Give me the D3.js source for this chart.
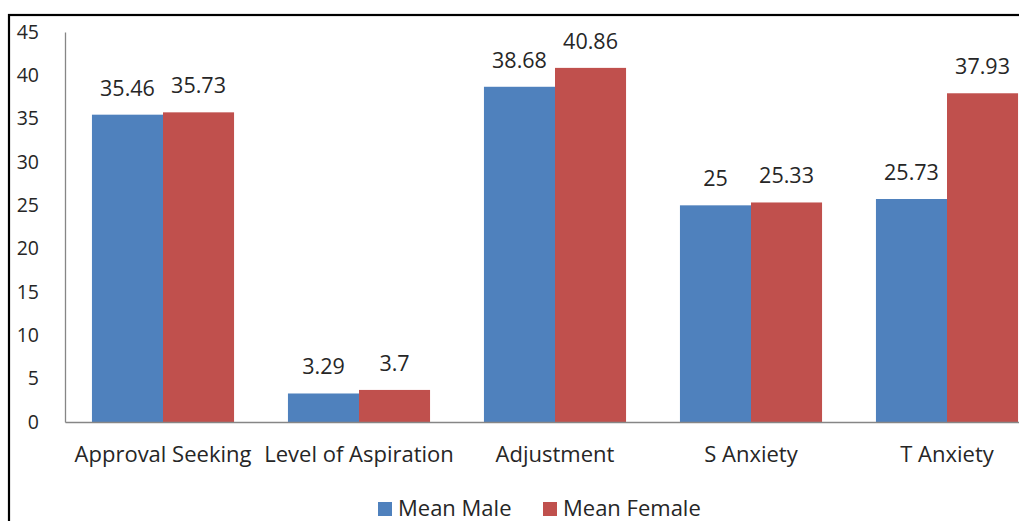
<!DOCTYPE html>
<html>
<head>
<meta charset="utf-8">
<script src="https://cdn.jsdelivr.net/npm/d3@7"></script>
<style>
  html, body { margin: 0; padding: 0; background: #fff; }
  svg { display: block; }
  text { font-family: "Open Sans", Lato, sans-serif; fill: #262626; }
</style>
</head>
<body>
<svg id="chart" width="1019" height="521"></svg>
<script>
// Scale scores by group
const categories = ["Approval Seeking", "Level of Aspiration", "Adjustment", "S Anxiety", "T Anxiety"];
const seriesNames = ["Mean Male", "Mean Female"];
const meanMale = [35.46, 3.29, 38.68, 25, 25.73];
const meanFemale = [35.73, 3.7, 40.86, 25.33, 37.93];
const yTicks = [0, 5, 10, 15, 20, 25, 30, 35, 40, 45];
const colors = ["#4F81BD", "#C0504D"];

const svg = d3.select("#chart");
const W = 1019, H = 521;

// outer chart frame
svg.append("rect")
  .attr("x", 9).attr("y", 15)
  .attr("width", W + 20).attr("height", H + 20)
  .attr("fill", "none").attr("stroke", "#000").attr("stroke-width", 2.2);

const plot = { left: 65, right: 1045, top: 32, bottom: 422 };

const x0 = d3.scaleBand().domain(categories).range([plot.left, plot.right]).paddingInner(0.275).paddingOuter(0.1375);
const x1 = d3.scaleBand().domain(seriesNames).range([0, x0.bandwidth()]);
const y = d3.scaleLinear().domain([0, 45]).range([plot.bottom, plot.top]);

const rows = categories.map((c, i) => ({ cat: c, vals: [meanMale[i], meanFemale[i]] }));

const groups = svg.append("g").selectAll("g").data(rows).join("g")
  .attr("transform", d => `translate(${x0(d.cat)},0)`);

groups.selectAll("rect").data(d => d.vals.map((v, j) => ({ v, s: seriesNames[j], j })))
  .join("rect")
  .attr("x", d => x1(d.s))
  .attr("y", d => y(d.v))
  .attr("width", x1.bandwidth())
  .attr("height", d => y(0) - y(d.v))
  .attr("fill", d => colors[d.j]);

groups.selectAll("text.val").data(d => d.vals.map((v, j) => ({ v, s: seriesNames[j] })))
  .join("text").attr("class", "val")
  .attr("x", d => x1(d.s) + x1.bandwidth() / 2)
  .attr("y", d => y(d.v) - 19)
  .attr("text-anchor", "middle")
  .attr("font-size", 21.5)
  .text(d => d.v);

// y axis
const yAxis = svg.append("g").attr("transform", `translate(${plot.left},0)`)
  .call(d3.axisLeft(y).tickValues(yTicks).tickSize(0).tickPadding(26));
yAxis.select(".domain").attr("stroke", "#868686").attr("stroke-width", 1.3);
yAxis.selectAll("text").attr("font-size", 19.5).attr("fill", "#262626")
  .style("font-family", "'Open Sans', sans-serif");

// x axis
const xAxis = svg.append("g").attr("transform", `translate(0,${plot.bottom})`)
  .call(d3.axisBottom(x0).tickSize(0).tickPadding(0));
xAxis.select(".domain").attr("stroke", "#868686").attr("stroke-width", 1.3);
xAxis.selectAll("text").attr("font-size", 22).attr("fill", "#262626")
  .style("font-family", "'Open Sans', sans-serif")
  .attr("dy", null).attr("y", 40);

// legend
const legend = svg.append("g");
const legendItems = [{ name: seriesNames[0], x: 378 }, { name: seriesNames[1], x: 543 }];
legendItems.forEach((it, i) => {
  legend.append("rect").attr("x", it.x).attr("y", 502).attr("width", 14).attr("height", 14).attr("fill", colors[i]);
  legend.append("text").attr("x", it.x + 20).attr("y", 516).attr("font-size", 22).text(it.name);
});
</script>
</body>
</html>
